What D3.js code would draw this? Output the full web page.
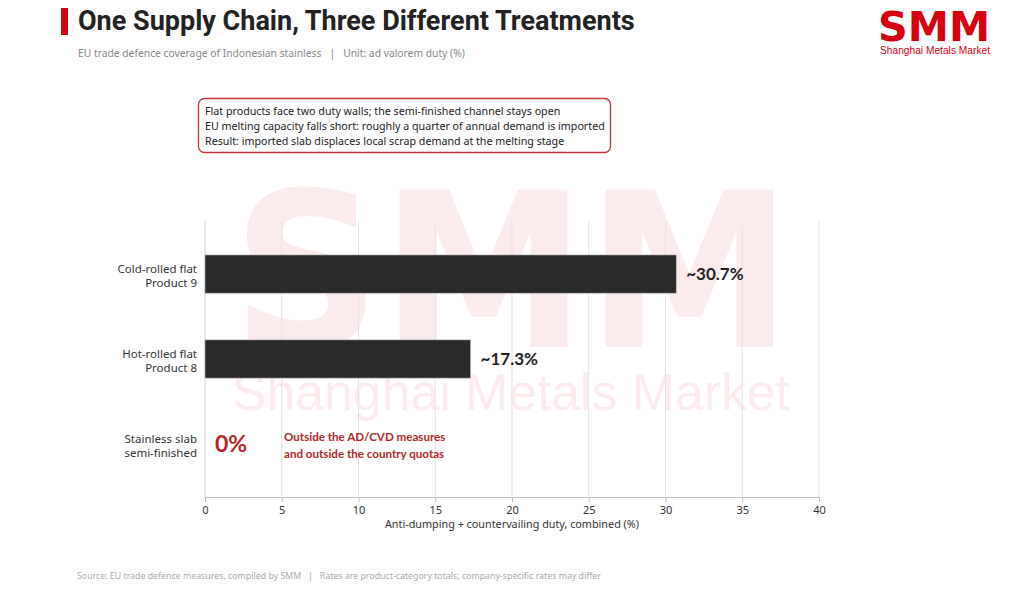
<!DOCTYPE html>
<html>
<head>
<meta charset="utf-8">
<script src="https://cdn.jsdelivr.net/npm/d3@7"></script>
<style>
body{margin:0;background:#fff;}
svg{display:block;font-family:"Noto Sans","DejaVu Sans",sans-serif;}
</style>
</head>
<body>
<svg id="chart" width="1024" height="600"></svg>
<script>
// データ
const categories = [["Cold-rolled flat","Product 9"],["Hot-rolled flat","Product 8"],["Stainless slab","semi-finished"]];
const duties = [30.7, 17.3, 0];
const valueLabels = ["~30.7%","~17.3%","0%"];
const xTicks = [0,5,10,15,20,25,30,35,40];
const noteLines = [
	"Flat products face two duty walls; the semi-finished channel stays open",
	"EU melting capacity falls short: roughly a quarter of annual demand is imported",
	"Result: imported slab displaces local scrap demand at the melting stage"
];
const slabNote = ["Outside the AD/CVD measures","and outside the country quotas"];

const svg = d3.select("#chart");
const red = "#d7000f";
const dark = "#2a2a2a";

// 透かし
svg.append("text").attr("x",512).attr("y",347)
	.attr("text-anchor","middle")
	.attr("font-family","DejaVu Sans, sans-serif").attr("font-weight","bold")
	.attr("font-size",215).attr("fill","#fcebec")
	.attr("textLength",560).attr("lengthAdjust","spacingAndGlyphs")
	.text("SMM");
svg.append("text").attr("x",511).attr("y",410)
	.attr("text-anchor","middle")
	.attr("font-family","Liberation Sans, sans-serif")
	.attr("font-size",52).attr("fill","#fcebec")
	.attr("textLength",558).attr("lengthAdjust","spacingAndGlyphs")
	.text("Shanghai Metals Market");

// タイトル
svg.append("rect").attr("x",61).attr("y",8).attr("width",7).attr("height",27).attr("fill",red);
svg.append("text").attr("x",78).attr("y",30)
	.attr("font-family","Roboto, sans-serif").attr("font-weight","bold")
	.attr("font-size",27).attr("fill","#222")
	.text("One Supply Chain, Three Different Treatments");
svg.append("text").attr("x",78).attr("y",57)
	.attr("font-size",10.3).attr("fill","#888")
	.style("white-space","pre")
	.text("EU trade defence coverage of Indonesian stainless   |   Unit: ad valorem duty (%)");

// ロゴ
svg.append("text").attr("x",934).attr("y",41)
	.attr("text-anchor","middle")
	.attr("font-family","DejaVu Sans, sans-serif").attr("font-weight","bold")
	.attr("font-size",40).attr("fill",red)
	.attr("textLength",112).attr("lengthAdjust","spacingAndGlyphs")
	.text("SMM");
svg.append("text").attr("x",935).attr("y",54)
	.attr("text-anchor","middle")
	.attr("font-family","Liberation Sans, sans-serif")
	.attr("font-size",10.5).attr("fill",red)
	.attr("textLength",110).attr("lengthAdjust","spacingAndGlyphs")
	.text("Shanghai Metals Market");

// 注記ボックス
svg.append("rect").attr("x",198.5).attr("y",98.5).attr("width",412).attr("height",54)
	.attr("rx",6).attr("fill","#fff").attr("stroke","#c8323a").attr("stroke-width",1.3);
svg.append("g").selectAll("text").data(noteLines).join("text")
	.attr("x",205).attr("y",(d,i)=>115+i*15)
	.attr("font-size",10.7).attr("fill","#222")
	.text(d=>d);

// スケール
const x = d3.scaleLinear().domain([0,40]).range([205,819]);
const y = d3.scaleBand().domain(d3.range(categories.length)).range([221,497])
	.paddingInner(0.55).paddingOuter(0.4);

// グリッド
svg.append("g").selectAll("line").data(xTicks.slice(1)).join("line")
	.attr("x1",d=>x(d)).attr("x2",d=>x(d)).attr("y1",221).attr("y2",497)
	.attr("stroke","#e3e3e3").attr("stroke-width",1);
svg.append("line").attr("x1",x(0)).attr("x2",x(0)).attr("y1",221).attr("y2",497)
	.attr("stroke","#cfcfcf");

// x軸
const xAxis = svg.append("g").attr("transform","translate(0,497)")
	.call(d3.axisBottom(x).tickValues(xTicks).tickSize(5).tickPadding(4));
xAxis.select(".domain").attr("stroke","#bdbdbd");
xAxis.selectAll(".tick line").attr("stroke","#bdbdbd");
xAxis.selectAll(".tick text").attr("font-size",11).attr("fill","#333").attr("font-family","Noto Sans, sans-serif");
svg.append("text").attr("x",512).attr("y",528).attr("text-anchor","middle")
	.attr("font-size",10.8).attr("fill","#333")
	.text("Anti-dumping + countervailing duty, combined (%)");

// y軸ラベル
const yl = svg.append("g").selectAll("text").data(categories).join("text")
	.attr("text-anchor","end").attr("font-size",11.5).attr("fill","#333");
yl.each(function(d,i){
	const c = y(i)+y.bandwidth()/2;
	d3.select(this).selectAll("tspan").data(d).join("tspan")
		.attr("x",197).attr("y",(t,j)=>c-1+j*14).text(t=>t);
});

// バー
svg.append("g").selectAll("rect").data(duties).join("rect")
	.attr("x",x(0)).attr("y",(d,i)=>y(i))
	.attr("width",d=>x(d)-x(0)).attr("height",y.bandwidth())
	.attr("fill",dark).attr("stroke","#bbb").attr("stroke-width",0.6)
	.style("display",d=>d>0?null:"none");

// 値ラベル
svg.append("g").selectAll("text").data(duties).join("text")
	.attr("x",(d,i)=>d>0?x(d)+10:x(0)+10)
	.attr("y",(d,i)=>y(i)+y.bandwidth()/2+(d>0?6:8))
	.attr("font-family","Lato, sans-serif").attr("font-weight","bold")
	.attr("font-size",(d)=>d>0?17:23)
	.attr("fill",d=>d>0?"#222":"#b3262c")
	.text((d,i)=>valueLabels[i]);

// スラブ注記
svg.append("g").selectAll("text").data(slabNote).join("text")
	.attr("x",284).attr("y",(d,i)=>y(2)+y.bandwidth()/2-3+i*17)
	.attr("font-family","Lato, sans-serif").attr("font-weight","bold")
	.attr("font-size",11.6).attr("fill","#b3262c")
	.text(d=>d);

// 出典
svg.append("text").attr("x",77).attr("y",579)
	.attr("font-size",8.8).attr("fill","#aaa")
	.style("white-space","pre")
	.text("Source: EU trade defence measures, compiled by SMM   |   Rates are product-category totals; company-specific rates may differ");
</script>
</body>
</html>
